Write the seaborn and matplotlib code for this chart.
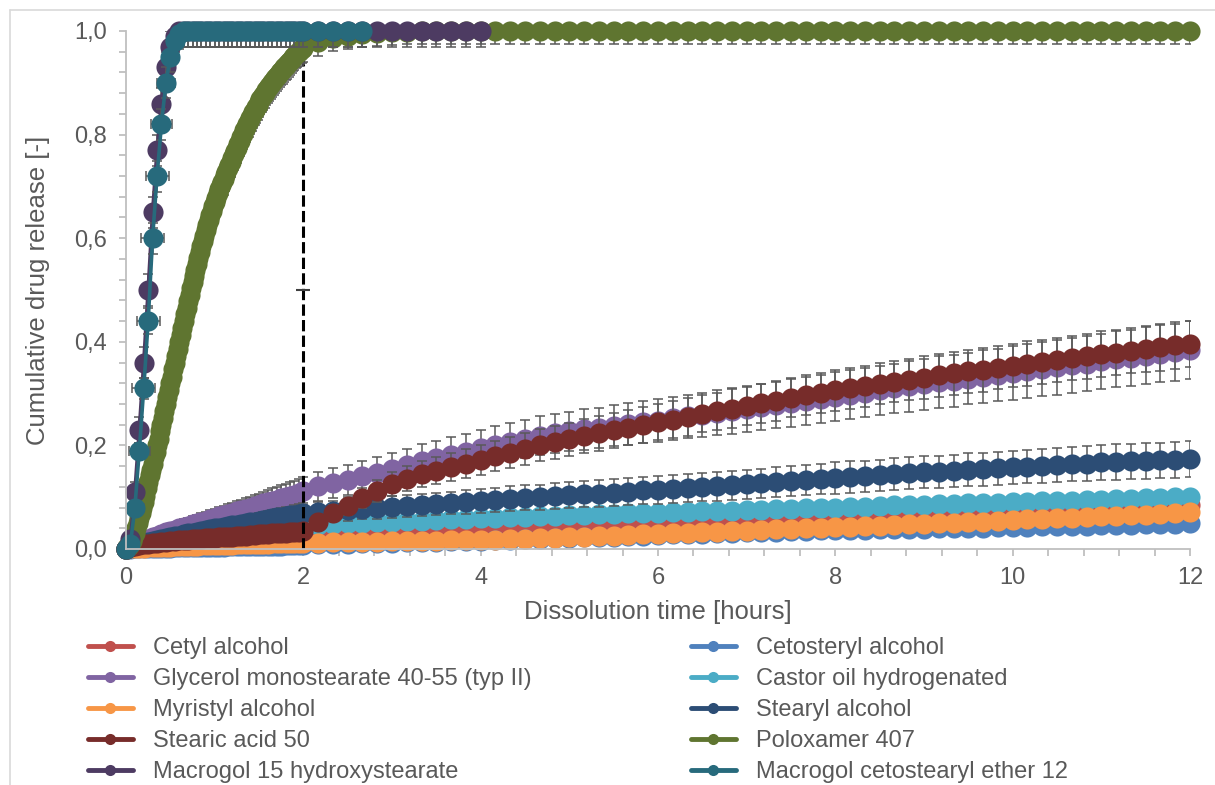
import numpy as np
import pandas as pd
import seaborn as sns
import matplotlib.pyplot as plt
from matplotlib.lines import Line2D
from matplotlib.ticker import FuncFormatter, MultipleLocator

sns.set_theme(style="white")
plt.rcParams["font.family"] = ["Liberation Sans", "DejaVu Sans"]

# sampling schedule: every 3 min up to 2 h, then every 10 min up to 12 h
minutes = list(range(0, 120, 3)) + list(range(120, 721, 10))
# Poloxamer was sampled every minute during the first 2 h
minutes_pol = list(range(0, 120, 1)) + list(range(120, 721, 10))

names = ["Cetyl alcohol", "Cetosteryl alcohol", "Glycerol monostearate 40-55 (typ II)",
         "Castor oil hydrogenated", "Myristyl alcohol", "Stearyl alcohol", "Stearic acid 50",
         "Poloxamer 407", "Macrogol 15 hydroxystearate", "Macrogol cetostearyl ether 12"]
colors = ["#C0504D", "#4F81BD", "#8064A2", "#4BACC6", "#F79646",
          "#2C4D75", "#772C2A", "#5F7530", "#4D3B62", "#276A7C"]

cetyl = [
    0.000, 0.002, 0.004, 0.005, 0.006, 0.007, 0.008, 0.008, 0.009, 0.010,
    0.011, 0.011, 0.012, 0.013, 0.013, 0.014, 0.015, 0.015, 0.016, 0.016,
    0.017, 0.018, 0.018, 0.019, 0.019, 0.020, 0.020, 0.021, 0.021, 0.022,
    0.022, 0.023, 0.023, 0.024, 0.024, 0.025, 0.025, 0.026, 0.026, 0.027,
    0.028, 0.030, 0.031, 0.032, 0.033, 0.034, 0.035, 0.036, 0.037, 0.038,
    0.039, 0.040, 0.041, 0.042, 0.043, 0.044, 0.045, 0.046, 0.047, 0.048,
    0.049, 0.050, 0.051, 0.052, 0.053, 0.054, 0.055, 0.056, 0.057, 0.058,
    0.059, 0.060, 0.061, 0.062, 0.063, 0.064, 0.065, 0.066, 0.066, 0.067,
    0.068, 0.069, 0.070, 0.071, 0.071, 0.072, 0.073, 0.074, 0.075, 0.076,
    0.076, 0.077, 0.078, 0.079, 0.079, 0.080, 0.081, 0.082, 0.082, 0.083,
    0.084]
cetosteryl = [
    0.000, 0.000, 0.001, 0.001, 0.001, 0.001, 0.002, 0.002, 0.002, 0.002,
    0.002, 0.003, 0.003, 0.003, 0.003, 0.003, 0.003, 0.004, 0.004, 0.004,
    0.004, 0.004, 0.004, 0.005, 0.005, 0.005, 0.005, 0.005, 0.005, 0.005,
    0.006, 0.006, 0.006, 0.006, 0.006, 0.006, 0.007, 0.007, 0.007, 0.007,
    0.008, 0.009, 0.009, 0.010, 0.011, 0.011, 0.012, 0.013, 0.013, 0.014,
    0.015, 0.015, 0.016, 0.017, 0.018, 0.019, 0.020, 0.021, 0.022, 0.023,
    0.023, 0.024, 0.025, 0.026, 0.027, 0.028, 0.028, 0.029, 0.030, 0.031,
    0.032, 0.033, 0.033, 0.034, 0.035, 0.036, 0.036, 0.037, 0.037, 0.038,
    0.038, 0.039, 0.039, 0.040, 0.040, 0.041, 0.041, 0.042, 0.043, 0.043,
    0.044, 0.044, 0.045, 0.045, 0.046, 0.047, 0.047, 0.048, 0.048, 0.049,
    0.050]
glycerol = [
    0.000, 0.007, 0.011, 0.014, 0.017, 0.020, 0.023, 0.026, 0.029, 0.032,
    0.035, 0.037, 0.040, 0.043, 0.045, 0.048, 0.050, 0.053, 0.055, 0.058,
    0.060, 0.063, 0.065, 0.068, 0.070, 0.073, 0.075, 0.078, 0.080, 0.083,
    0.085, 0.088, 0.090, 0.093, 0.095, 0.098, 0.100, 0.103, 0.105, 0.108,
    0.112, 0.121, 0.128, 0.134, 0.140, 0.147, 0.155, 0.162, 0.169, 0.176,
    0.182, 0.188, 0.195, 0.201, 0.207, 0.213, 0.219, 0.223, 0.227, 0.231,
    0.234, 0.238, 0.241, 0.245, 0.248, 0.252, 0.256, 0.259, 0.263, 0.266,
    0.270, 0.274, 0.278, 0.282, 0.286, 0.290, 0.294, 0.298, 0.302, 0.306,
    0.310, 0.314, 0.318, 0.322, 0.325, 0.329, 0.333, 0.336, 0.340, 0.344,
    0.347, 0.351, 0.355, 0.358, 0.362, 0.366, 0.369, 0.373, 0.377, 0.380,
    0.384]
castor = [
    0.000, 0.003, 0.005, 0.006, 0.007, 0.009, 0.010, 0.011, 0.012, 0.013,
    0.015, 0.016, 0.017, 0.018, 0.019, 0.020, 0.021, 0.022, 0.023, 0.024,
    0.025, 0.026, 0.027, 0.028, 0.029, 0.030, 0.031, 0.032, 0.033, 0.034,
    0.035, 0.036, 0.037, 0.038, 0.039, 0.040, 0.041, 0.042, 0.043, 0.044,
    0.045, 0.047, 0.048, 0.050, 0.051, 0.052, 0.053, 0.054, 0.055, 0.056,
    0.057, 0.058, 0.059, 0.060, 0.061, 0.062, 0.063, 0.064, 0.065, 0.066,
    0.067, 0.068, 0.069, 0.069, 0.070, 0.071, 0.072, 0.073, 0.074, 0.074,
    0.075, 0.076, 0.077, 0.078, 0.079, 0.079, 0.080, 0.081, 0.082, 0.083,
    0.084, 0.084, 0.085, 0.086, 0.087, 0.088, 0.088, 0.089, 0.090, 0.091,
    0.092, 0.093, 0.093, 0.094, 0.095, 0.096, 0.097, 0.098, 0.099, 0.100,
    0.101]
myristyl = [
    0.000, 0.001, 0.001, 0.002, 0.002, 0.003, 0.003, 0.003, 0.004, 0.004,
    0.004, 0.005, 0.005, 0.005, 0.006, 0.006, 0.006, 0.007, 0.007, 0.007,
    0.007, 0.008, 0.008, 0.008, 0.008, 0.009, 0.009, 0.009, 0.009, 0.010,
    0.010, 0.010, 0.010, 0.011, 0.011, 0.011, 0.011, 0.011, 0.012, 0.012,
    0.012, 0.012, 0.013, 0.013, 0.014, 0.014, 0.015, 0.015, 0.016, 0.016,
    0.017, 0.017, 0.018, 0.018, 0.019, 0.020, 0.021, 0.022, 0.023, 0.024,
    0.025, 0.026, 0.027, 0.028, 0.029, 0.030, 0.031, 0.032, 0.033, 0.034,
    0.035, 0.036, 0.038, 0.039, 0.040, 0.041, 0.042, 0.043, 0.044, 0.045,
    0.047, 0.048, 0.049, 0.050, 0.051, 0.052, 0.053, 0.054, 0.056, 0.057,
    0.058, 0.059, 0.060, 0.061, 0.063, 0.064, 0.065, 0.066, 0.068, 0.069,
    0.071]
stearyl = [
    0.000, 0.004, 0.007, 0.009, 0.011, 0.013, 0.015, 0.017, 0.019, 0.021,
    0.023, 0.025, 0.026, 0.028, 0.030, 0.031, 0.033, 0.035, 0.036, 0.038,
    0.040, 0.041, 0.043, 0.044, 0.046, 0.047, 0.049, 0.050, 0.052, 0.053,
    0.055, 0.056, 0.058, 0.059, 0.061, 0.062, 0.064, 0.065, 0.066, 0.068,
    0.070, 0.071, 0.073, 0.075, 0.077, 0.079, 0.081, 0.083, 0.085, 0.087,
    0.089, 0.091, 0.093, 0.095, 0.097, 0.099, 0.100, 0.102, 0.104, 0.106,
    0.107, 0.109, 0.111, 0.113, 0.114, 0.116, 0.118, 0.120, 0.121, 0.123,
    0.125, 0.127, 0.129, 0.131, 0.133, 0.135, 0.137, 0.139, 0.140, 0.142,
    0.144, 0.146, 0.148, 0.149, 0.151, 0.153, 0.154, 0.156, 0.158, 0.159,
    0.161, 0.162, 0.164, 0.165, 0.167, 0.168, 0.169, 0.170, 0.171, 0.172,
    0.174]
stearic = [
    0.000, 0.004, 0.006, 0.008, 0.009, 0.010, 0.011, 0.012, 0.013, 0.014,
    0.015, 0.016, 0.017, 0.017, 0.018, 0.019, 0.019, 0.020, 0.021, 0.021,
    0.022, 0.023, 0.023, 0.024, 0.024, 0.025, 0.026, 0.026, 0.027, 0.027,
    0.028, 0.028, 0.029, 0.030, 0.030, 0.031, 0.031, 0.032, 0.032, 0.033,
    0.035, 0.053, 0.069, 0.083, 0.098, 0.112, 0.126, 0.136, 0.144, 0.151,
    0.158, 0.165, 0.172, 0.179, 0.186, 0.193, 0.200, 0.206, 0.212, 0.218,
    0.223, 0.229, 0.234, 0.240, 0.245, 0.250, 0.255, 0.261, 0.266, 0.271,
    0.276, 0.281, 0.286, 0.292, 0.297, 0.301, 0.306, 0.310, 0.314, 0.319,
    0.323, 0.327, 0.331, 0.335, 0.339, 0.343, 0.346, 0.350, 0.354, 0.358,
    0.361, 0.365, 0.369, 0.372, 0.376, 0.379, 0.383, 0.386, 0.389, 0.393,
    0.396]
poloxamer = [
    0.000, 0.003, 0.006, 0.010, 0.016, 0.023, 0.030, 0.040, 0.050, 0.060,
    0.070, 0.080, 0.090, 0.103, 0.117, 0.130, 0.142, 0.153, 0.165, 0.177,
    0.188, 0.200, 0.213, 0.227, 0.240, 0.253, 0.267, 0.280, 0.293, 0.307,
    0.320, 0.333, 0.347, 0.360, 0.373, 0.387, 0.400, 0.413, 0.427, 0.440,
    0.453, 0.465, 0.478, 0.490, 0.503, 0.515, 0.527, 0.538, 0.550, 0.562,
    0.573, 0.585, 0.595, 0.605, 0.615, 0.625, 0.635, 0.645, 0.653, 0.662,
    0.670, 0.678, 0.687, 0.695, 0.702, 0.708, 0.715, 0.722, 0.728, 0.735,
    0.742, 0.748, 0.755, 0.762, 0.768, 0.775, 0.782, 0.788, 0.795, 0.802,
    0.808, 0.815, 0.821, 0.826, 0.832, 0.837, 0.843, 0.848, 0.853, 0.858,
    0.863, 0.868, 0.872, 0.877, 0.881, 0.886, 0.890, 0.894, 0.898, 0.902,
    0.906, 0.909, 0.913, 0.916, 0.920, 0.923, 0.926, 0.930, 0.933, 0.936,
    0.940, 0.943, 0.946, 0.949, 0.952, 0.955, 0.957, 0.960, 0.963, 0.965,
    0.968, 0.978, 0.986, 0.991, 0.995, 0.997, 0.998, 0.999, 1.000, 1.000,
    1.000, 1.000, 1.000, 1.000, 1.000, 1.000, 1.000, 1.000, 1.000, 1.000,
    1.000, 1.000, 1.000, 1.000, 1.000, 1.000, 1.000, 1.000, 1.000, 1.000,
    1.000, 1.000, 1.000, 1.000, 1.000, 1.000, 1.000, 1.000, 1.000, 1.000,
    1.000, 1.000, 1.000, 1.000, 1.000, 1.000, 1.000, 1.000, 1.000, 1.000,
    1.000, 1.000, 1.000, 1.000, 1.000, 1.000, 1.000, 1.000, 1.000, 1.000,
    1.000]
# these two stop once fully released (4 h and 2.67 h)
macrogol15 = [
    0.000, 0.020, 0.110, 0.230, 0.360, 0.500, 0.650, 0.770, 0.860, 0.930,
    0.970, 0.990, 1.000, 1.000, 1.000, 1.000, 1.000, 1.000, 1.000, 1.000,
    1.000, 1.000, 1.000, 1.000, 1.000, 1.000, 1.000, 1.000, 1.000, 1.000,
    1.000, 1.000, 1.000, 1.000, 1.000, 1.000, 1.000, 1.000, 1.000, 1.000,
    1.000, 1.000, 1.000, 1.000, 1.000, 1.000, 1.000, 1.000, 1.000, 1.000,
    1.000, 1.000, 1.000]
macrogol_ether = [
    0.000, 0.010, 0.080, 0.190, 0.310, 0.440, 0.600, 0.720, 0.820, 0.900,
    0.950, 0.980, 0.995, 1.000, 1.000, 1.000, 1.000, 1.000, 1.000, 1.000,
    1.000, 1.000, 1.000, 1.000, 1.000, 1.000, 1.000, 1.000, 1.000, 1.000,
    1.000, 1.000, 1.000, 1.000, 1.000, 1.000, 1.000, 1.000, 1.000, 1.000,
    1.000, 1.000, 1.000, 1.000, 1.000]

# standard deviations (only the ones visible in the chart)
glycerol_sd = [
    0.000, 0.004, 0.006, 0.007, 0.008, 0.009, 0.010, 0.011, 0.011, 0.012,
    0.012, 0.013, 0.013, 0.014, 0.014, 0.015, 0.015, 0.016, 0.016, 0.017,
    0.017, 0.018, 0.018, 0.019, 0.019, 0.020, 0.020, 0.021, 0.021, 0.022,
    0.022, 0.023, 0.023, 0.024, 0.024, 0.025, 0.025, 0.026, 0.026, 0.027,
    0.027, 0.028, 0.029, 0.029, 0.030, 0.031, 0.031, 0.032, 0.033, 0.033,
    0.034, 0.034, 0.035, 0.036, 0.036, 0.037, 0.037, 0.038, 0.038, 0.039,
    0.039, 0.040, 0.040, 0.041, 0.041, 0.042, 0.042, 0.043, 0.043, 0.044,
    0.044, 0.045, 0.045, 0.046, 0.046, 0.046, 0.047, 0.047, 0.048, 0.048,
    0.048, 0.049, 0.049, 0.050, 0.050, 0.050, 0.051, 0.051, 0.052, 0.052,
    0.052, 0.053, 0.053, 0.053, 0.054, 0.054, 0.054, 0.055, 0.055, 0.055,
    0.056]
stearyl_sd = [
    0.000, 0.002, 0.003, 0.004, 0.004, 0.005, 0.005, 0.006, 0.006, 0.007,
    0.007, 0.008, 0.008, 0.008, 0.009, 0.009, 0.010, 0.010, 0.010, 0.011,
    0.011, 0.012, 0.012, 0.012, 0.013, 0.013, 0.013, 0.014, 0.014, 0.015,
    0.015, 0.015, 0.016, 0.016, 0.016, 0.017, 0.017, 0.017, 0.018, 0.018,
    0.018, 0.019, 0.019, 0.020, 0.020, 0.021, 0.021, 0.021, 0.022, 0.022,
    0.022, 0.023, 0.023, 0.023, 0.024, 0.024, 0.024, 0.025, 0.025, 0.025,
    0.026, 0.026, 0.026, 0.026, 0.027, 0.027, 0.027, 0.027, 0.028, 0.028,
    0.028, 0.028, 0.029, 0.029, 0.029, 0.029, 0.030, 0.030, 0.030, 0.030,
    0.031, 0.031, 0.031, 0.031, 0.031, 0.032, 0.032, 0.032, 0.032, 0.032,
    0.033, 0.033, 0.033, 0.033, 0.033, 0.034, 0.034, 0.034, 0.034, 0.034,
    0.035]
stearic_sd = [
    0.000, 0.001, 0.002, 0.002, 0.003, 0.003, 0.003, 0.004, 0.004, 0.004,
    0.004, 0.005, 0.005, 0.005, 0.005, 0.005, 0.006, 0.006, 0.006, 0.006,
    0.006, 0.007, 0.007, 0.007, 0.007, 0.007, 0.007, 0.008, 0.008, 0.008,
    0.008, 0.008, 0.008, 0.009, 0.009, 0.009, 0.009, 0.009, 0.010, 0.010,
    0.010, 0.013, 0.015, 0.017, 0.019, 0.021, 0.023, 0.024, 0.025, 0.026,
    0.027, 0.028, 0.029, 0.029, 0.030, 0.031, 0.031, 0.032, 0.032, 0.033,
    0.033, 0.034, 0.034, 0.035, 0.035, 0.035, 0.036, 0.036, 0.036, 0.037,
    0.037, 0.037, 0.038, 0.038, 0.038, 0.039, 0.039, 0.039, 0.040, 0.040,
    0.040, 0.040, 0.041, 0.041, 0.041, 0.042, 0.042, 0.042, 0.042, 0.043,
    0.043, 0.043, 0.043, 0.044, 0.044, 0.044, 0.044, 0.045, 0.045, 0.045,
    0.045]
poloxamer_sd = [
    0.000, 0.001, 0.003, 0.004, 0.005, 0.007, 0.008, 0.009, 0.011, 0.012,
    0.013, 0.014, 0.015, 0.016, 0.017, 0.018, 0.019, 0.020, 0.020, 0.021,
    0.022, 0.022, 0.023, 0.024, 0.024, 0.025, 0.025, 0.026, 0.026, 0.027,
    0.027, 0.027, 0.028, 0.028, 0.029, 0.029, 0.029, 0.030, 0.030, 0.030,
    0.030, 0.030, 0.031, 0.031, 0.031, 0.031, 0.031, 0.031, 0.031, 0.031,
    0.031, 0.031, 0.031, 0.031, 0.031, 0.031, 0.031, 0.031, 0.031, 0.031,
    0.031, 0.031, 0.031, 0.031, 0.031, 0.031, 0.031, 0.031, 0.031, 0.031,
    0.030, 0.030, 0.030, 0.030, 0.030, 0.030, 0.030, 0.030, 0.030, 0.030,
    0.030, 0.030, 0.030, 0.030, 0.030, 0.030, 0.030, 0.030, 0.030, 0.030,
    0.029, 0.029, 0.029, 0.029, 0.029, 0.029, 0.029, 0.029, 0.029, 0.029,
    0.029, 0.029, 0.028, 0.028, 0.028, 0.028, 0.028, 0.028, 0.028, 0.028,
    0.028, 0.028, 0.027, 0.027, 0.027, 0.027, 0.027, 0.027, 0.027, 0.027,
    0.027, 0.026, 0.025, 0.025, 0.025, 0.025, 0.025, 0.025, 0.025, 0.025,
    0.025, 0.025, 0.025, 0.025, 0.025, 0.025, 0.025, 0.025, 0.025, 0.025,
    0.025, 0.025, 0.025, 0.025, 0.025, 0.025, 0.025, 0.025, 0.025, 0.025,
    0.025, 0.025, 0.025, 0.025, 0.025, 0.025, 0.025, 0.025, 0.025, 0.025,
    0.025, 0.025, 0.025, 0.025, 0.025, 0.025, 0.025, 0.025, 0.025, 0.025,
    0.025, 0.025, 0.025, 0.025, 0.025, 0.025, 0.025, 0.025, 0.025, 0.025,
    0.025]
macrogol15_sd = [
    0.000, 0.010, 0.020, 0.025, 0.030, 0.030, 0.030, 0.030, 0.030, 0.030,
    0.030, 0.030, 0.030, 0.030, 0.030, 0.030, 0.030, 0.030, 0.030, 0.030,
    0.030, 0.030, 0.030, 0.030, 0.030, 0.030, 0.030, 0.030, 0.030, 0.030,
    0.030, 0.030, 0.030, 0.030, 0.030, 0.030, 0.030, 0.030, 0.030, 0.030,
    0.030, 0.030, 0.030, 0.030, 0.030, 0.030, 0.030, 0.030, 0.030, 0.030,
    0.030, 0.030, 0.030]
macrogol_ether_sd = [
    0.000, 0.005, 0.010, 0.015, 0.020, 0.025, 0.030, 0.030, 0.030, 0.030,
    0.030, 0.030, 0.030, 0.030, 0.030, 0.030, 0.030, 0.030, 0.030, 0.030,
    0.030, 0.030, 0.030, 0.030, 0.030, 0.030, 0.030, 0.030, 0.030, 0.030,
    0.030, 0.030, 0.030, 0.030, 0.030, 0.030, 0.030, 0.030, 0.030, 0.030,
    0.030, 0.030, 0.030, 0.030, 0.030]
# horizontal (time) deviation of the ether series during the fast rise, hours
macrogol_ether_tsd = [
    0.00, 0.05, 0.10, 0.12, 0.13, 0.13, 0.13, 0.13, 0.12, 0.10,
    0.06, 0.03, 0.00]

# vertical marker at 2 hours
dash_x = [2, 2, 2]
dash_y = [0.0, 0.5, 1.0]

values = [cetyl, cetosteryl, glycerol, castor, myristyl, stearyl, stearic,
          poloxamer, macrogol15, macrogol_ether]
sds = [None, None, glycerol_sd, None, None, stearyl_sd, stearic_sd,
       poloxamer_sd, macrogol15_sd, macrogol_ether_sd]
schedules = [minutes] * 7 + [minutes_pol, minutes, minutes]

W, H = 1215, 785
fig = plt.figure(figsize=(W / 100, H / 100), dpi=100)
ax = fig.add_axes([126 / W, 1 - 549 / H, (1190 - 126) / W, (549 - 31) / H])

err_col = "#595959"
eb_kw = dict(fmt="none", ecolor=err_col, elinewidth=1.1, capsize=3.3, capthick=1.1)
for name, col, vals, sd, sched in zip(names, colors, values, sds, schedules):
    t = np.array(sched[:len(vals)]) / 60.0
    if sd is not None:
        if name == "Poloxamer 407":
            # only the lower bars show for this series
            ax.errorbar(t, vals, yerr=[sd, np.zeros(len(sd))], **eb_kw)
        else:
            ax.errorbar(t, vals, yerr=sd, **eb_kw)
    if name == "Macrogol cetostearyl ether 12":
        n = len(macrogol_ether_tsd)
        ax.errorbar(t[:n], vals[:n], xerr=macrogol_ether_tsd, **eb_kw)
    df = pd.DataFrame({"time": t, "release": vals})
    sns.lineplot(data=df, x="time", y="release", ax=ax, color=col, marker="o",
                 markersize=14.5, markeredgewidth=0, linewidth=2.6, sort=False,
                 estimator=None, errorbar=None, clip_on=False)
    if name == "Stearic acid 50":
        ax.plot(dash_x, dash_y, color="black", lw=2.2, ls=(0, (3.7, 1.4)),
                solid_capstyle="butt")
        ax.plot(dash_x[1:2], dash_y[1:2], marker="_", ms=10, mew=1.5,
                color="#404040", ls="none")

ax.set_xlim(0, 12)
ax.set_ylim(0, 1)
ax.xaxis.set_major_locator(MultipleLocator(2))
ax.xaxis.set_minor_locator(MultipleLocator(0.4))
ax.yaxis.set_major_locator(MultipleLocator(0.2))
ax.yaxis.set_minor_locator(MultipleLocator(0.04))
ax.yaxis.set_major_formatter(FuncFormatter(lambda v, p: f"{v:.1f}".replace(".", ",")))
ax.xaxis.set_major_formatter(FuncFormatter(lambda v, p: f"{v:.0f}"))

axis_col = "#BFBFBF"
text_col = "#595959"
for side in ["top", "right"]:
    ax.spines[side].set_visible(False)
for side in ["left", "bottom"]:
    ax.spines[side].set_color(axis_col)
    ax.spines[side].set_linewidth(1.3)
ax.tick_params(which="both", direction="out", length=5, width=1.3, color=axis_col,
               left=True, bottom=True)
ax.tick_params(axis="y", which="major", labelsize=17, labelcolor=text_col, pad=9)
ax.tick_params(axis="x", which="major", labelsize=17, labelcolor=text_col, pad=8)

ax.set_xlabel("Dissolution time [hours]", fontsize=18.5, color=text_col)
ax.set_ylabel("Cumulative drug release [-]", fontsize=18.5, color=text_col)
ax.xaxis.set_label_coords(0.5, -0.098)
ax.yaxis.set_label_coords(-0.071, 0.5)
ax.grid(False)

# legend in two columns below the plot
handles = [Line2D([], [], color=c, lw=3.5, marker="o", ms=8, mew=0) for c in colors]
for col_i, x0 in enumerate([88 / W, 691 / W]):
    idx = list(range(col_i, len(names), 2))
    fig.legend([handles[k] for k in idx], [names[k] for k in idx], loc="upper left",
               bbox_to_anchor=(x0, 1 - 637 / H), frameon=False, fontsize=17,
               labelcolor=text_col, handlelength=1.9, handletextpad=0.85,
               labelspacing=0.38, borderpad=0, borderaxespad=0)

# chart area border (top and left edges visible)
border = "#D9D9D9"
fig.add_artist(Line2D([10 / W, 1], [1 - 10 / H, 1 - 10 / H], transform=fig.transFigure,
                      color=border, lw=1.2))
fig.add_artist(Line2D([10 / W, 10 / W], [0, 1 - 10 / H], transform=fig.transFigure,
                      color=border, lw=1.2))

fig.savefig("out.png", dpi=100)
